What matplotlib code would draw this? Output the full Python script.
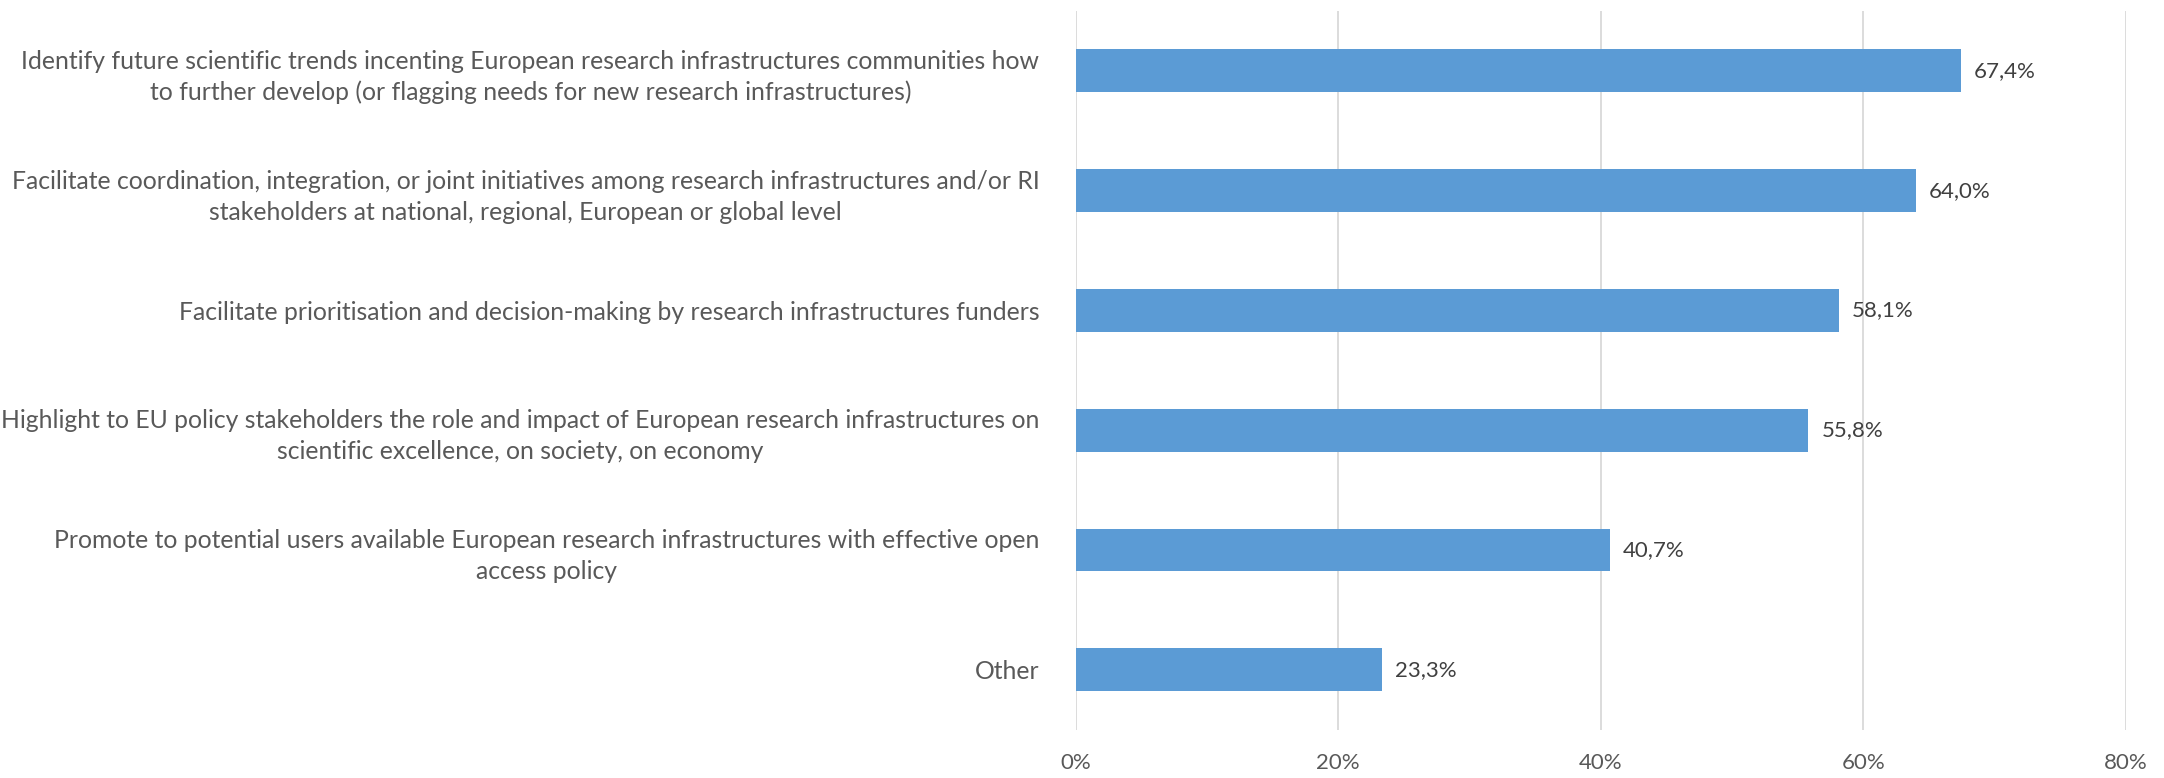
import matplotlib.pyplot as plt
from matplotlib.ticker import FuncFormatter

categories = [
    "Identify future scientific trends incenting European research infrastructures communities how\nto further develop (or flagging needs for new research infrastructures)",
    "Facilitate coordination, integration, or joint initiatives among research infrastructures and/or RI\nstakeholders at national, regional, European or global level",
    "Facilitate prioritisation and decision-making by research infrastructures funders",
    "Highlight to EU policy stakeholders the role and impact of European research infrastructures on\nscientific excellence, on society, on economy",
    "Promote to potential users available European research infrastructures with effective open\naccess policy",
    "Other",
]
values = [67.4, 64.0, 58.1, 55.8, 40.7, 23.3]
xticks = [0, 20, 40, 60, 80]

plt.rcParams["font.family"] = ["Lato", "DejaVu Sans"]

fig = plt.figure(figsize=(21.64, 7.78), dpi=100)
ax = fig.add_axes([0.497, 0.062, 0.4855, 0.924])

ypos = list(range(len(categories)))
bars = ax.barh(ypos, values, height=0.357, color="#5B9BD5", zorder=3)

for b, v in zip(bars, values):
    ax.text(b.get_width() + 1.0, b.get_y() + b.get_height() / 2,
            f"{v:.1f}%".replace(".", ","), va="center", ha="left",
            fontsize=16, color="#404040")

ax.set_yticks(ypos)
ax.set_yticklabels(categories, fontsize=17.8, color="#595959",
                   multialignment="center", linespacing=1.42)
ax.set_ylim(len(categories) - 0.5, -0.5)

ax.set_xlim(0, 80)
ax.set_xticks(xticks)
ax.xaxis.set_major_formatter(FuncFormatter(lambda x, p: f"{x:.0f}%"))
ax.tick_params(axis="x", length=0, pad=17, labelsize=16, labelcolor="#595959")
ax.tick_params(axis="y", length=0, pad=26)

ax.grid(axis="x", color="#D9D9D9", linewidth=1.3, zorder=0)
for s in ax.spines.values():
    s.set_visible(False)

fig.savefig("out.png", dpi=100)
